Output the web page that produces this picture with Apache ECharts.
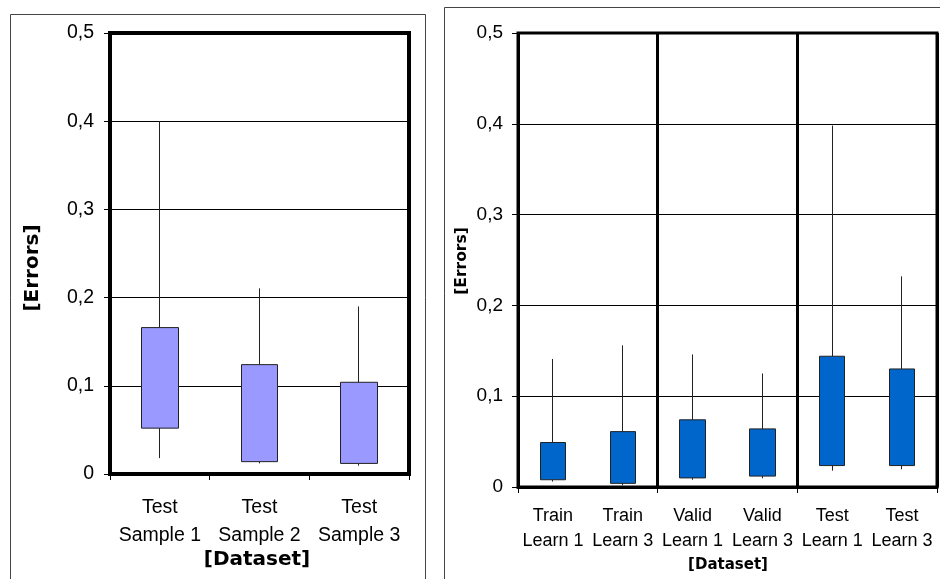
<!DOCTYPE html>
<html>
<head>
<meta charset="utf-8">
<script src="https://cdn.jsdelivr.net/npm/echarts@6/dist/echarts.min.js"></script>
<style>
html,body{margin:0;padding:0;background:#fff;}
#chart{width:940px;height:579px;}
</style>
</head>
<body>
<div id="chart"></div>
<script>
// Left panel data
var leftCategories = ['Test\nSample 1', 'Test\nSample 2', 'Test\nSample 3'];
var leftQ1  = [0.052, 0.014, 0.012];
var leftQ3  = [0.166, 0.124, 0.104];
var leftMin = [0.018, 0.012, 0.0095];
var leftMax = [0.400, 0.2105, 0.190];

// Right panel data
var rightCategories = ['Train\nLearn 1', 'Train\nLearn 3', 'Valid\nLearn 1', 'Valid\nLearn 3', 'Test\nLearn 1', 'Test\nLearn 3'];
var rightQ1  = [0.008, 0.004, 0.010, 0.012, 0.0236, 0.0236];
var rightQ3  = [0.049, 0.061, 0.074, 0.064, 0.144, 0.130];
var rightMin = [0.006, 0.002, 0.008, 0.0096, 0.018, 0.0195];
var rightMax = [0.141, 0.156, 0.146, 0.125, 0.398, 0.232];

var yTicks = [0, 0.1, 0.2, 0.3, 0.4, 0.5];
var yTitle = '[Errors]';
var xTitle = '[Dataset]';

function toCandle(q1, q3, mn, mx) {
  return q1.map(function (v, i) { return [v, q3[i], mn[i], mx[i]]; });
}
function fmtY(v) {
  if (v === 0) return '0';
  return v.toFixed(1).replace('.', ',');
}
function everyOther(index) { return index % 2 === 0; }

var FONT = '"Liberation Sans", Arial, sans-serif';
var BOLD = '"DejaVu Sans", sans-serif';

var chart = echarts.init(document.getElementById('chart'), null, {renderer: 'canvas'});

function yAxisCfg(gi, fs, margin) {
  return {
    type: 'value', gridIndex: gi, min: yTicks[0], max: yTicks[yTicks.length - 1], interval: 0.1,
    axisLine: {show: false},
    axisTick: {show: true, inside: false, length: 6, lineStyle: {color: '#000', width: 1}},
    axisLabel: {color: '#000', fontFamily: FONT, fontSize: fs, margin: margin, formatter: fmtY},
    splitLine: {show: true, lineStyle: {color: '#000', width: 1}}
  };
}

var option = {
  backgroundColor: '#fff',
  animation: false,
  grid: [
    {left: 110, top: 33, width: 299, height: 441, show: true, borderColor: '#000', borderWidth: 4, backgroundColor: 'transparent'},
    {left: 518, top: 33, width: 419, height: 454, show: true, borderColor: '#000', borderWidth: 3, backgroundColor: 'transparent'}
  ],
  xAxis: [
    {
      type: 'category', gridIndex: 0, data: leftCategories, boundaryGap: true,
      axisLine: {show: true, lineStyle: {color: '#000', width: 4}},
      axisTick: {show: true, length: 6, lineStyle: {color: '#000', width: 1}},
      axisLabel: {color: '#000', fontFamily: FONT, fontSize: 19.5, lineHeight: 28, margin: 20, interval: 0},
      splitLine: {show: false}
    },
    {
      type: 'category', gridIndex: 1, data: rightCategories, boundaryGap: true,
      axisLine: {show: true, lineStyle: {color: '#000', width: 3}},
      axisTick: {show: true, length: 6, interval: everyOther, lineStyle: {color: '#000', width: 1}},
      axisLabel: {color: '#000', fontFamily: FONT, fontSize: 18, lineHeight: 25, margin: 17, interval: 0},
      splitLine: {show: true, interval: everyOther, lineStyle: {color: '#000', width: 3}}
    }
  ],
  yAxis: [yAxisCfg(0, 19.5, 16), yAxisCfg(1, 19, 15)],
  series: [
    {
      type: 'candlestick', xAxisIndex: 0, yAxisIndex: 0, barWidth: '37%',
      data: toCandle(leftQ1, leftQ3, leftMin, leftMax),
      itemStyle: {color: '#9999FF', color0: '#9999FF', borderColor: '#222', borderColor0: '#222', borderWidth: 1}
    },
    {
      type: 'candlestick', xAxisIndex: 1, yAxisIndex: 1, barWidth: '37%',
      data: toCandle(rightQ1, rightQ3, rightMin, rightMax),
      itemStyle: {color: '#0066CC', color0: '#0066CC', borderColor: '#222', borderColor0: '#222', borderWidth: 1}
    }
  ],
  graphic: [
    {type: 'rect', shape: {x: 10.5, y: 14.5, width: 415, height: 620}, style: {fill: 'none', stroke: '#444', lineWidth: 1}, silent: true, z: -1},
    {type: 'rect', shape: {x: 444.5, y: 7.5, width: 620, height: 620}, style: {fill: 'none', stroke: '#444', lineWidth: 1}, silent: true, z: -1},
    {type: 'text', x: 33, y: 268, rotation: Math.PI / 2,
      style: {text: yTitle, font: 'bold 20px ' + BOLD, fill: '#000', textAlign: 'center', textVerticalAlign: 'middle'}},
    {type: 'text', x: 257, y: 560,
      style: {text: xTitle, font: 'bold 20px ' + BOLD, fill: '#000', textAlign: 'center', textVerticalAlign: 'middle'}},
    {type: 'text', x: 462, y: 261, rotation: Math.PI / 2,
      style: {text: yTitle, font: 'bold 15.5px ' + BOLD, fill: '#000', textAlign: 'center', textVerticalAlign: 'middle'}},
    {type: 'text', x: 728, y: 565,
      style: {text: xTitle, font: 'bold 15px ' + BOLD, fill: '#000', textAlign: 'center', textVerticalAlign: 'middle'}}
  ]
};
chart.setOption(option);
</script>
</body>
</html>
